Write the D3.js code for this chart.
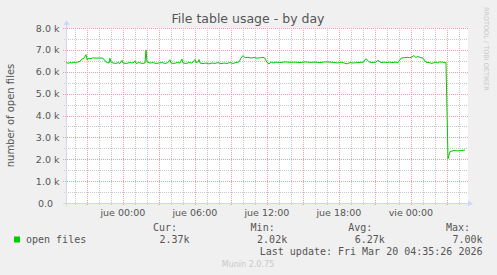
<!DOCTYPE html>
<html>
<head>
<meta charset="utf-8">
<script src="https://cdn.jsdelivr.net/npm/d3@7"></script>
<style>
  body { margin: 0; background: #f0f0f0; }
  svg { display: block; font-family: "DejaVu Sans", sans-serif; }
  .mono { font-family: "DejaVu Sans Mono", monospace; font-size: 10px; fill: #555; }
</style>
</head>
<body>
<div id="chart"></div>
<script>
const width = 497,
    height = 275;

// munin "day" graph: 400 samples of 5 minutes, ending at the last update
const endTime = new Date(Date.UTC(2026, 2, 20, 4, 35, 26));
const startTime = new Date(+endTime - 400 * 300 * 1000);

// minutes after startTime, and the number of open files at that time
const minutes = [
    0, 10, 20, 30, 40, 50, 60, 70, 80, 90, 100, 105, 115, 125, 135, 150, 170, 185,
    195, 205, 215, 220, 225, 235, 250, 260, 270, 280, 280, 285, 300, 320, 335, 345,
    350, 365, 380, 395, 400, 405, 420, 435, 450, 465, 480, 495, 510, 520, 525, 540,
    555, 570, 580, 585, 600, 615, 630, 645, 650, 660, 665, 670, 685, 700, 715, 730,
    745, 760, 775, 790, 805, 820, 835, 850, 865, 875, 885, 895, 910, 925, 940, 955,
    970, 985, 995, 1005, 1015, 1025, 1035, 1050, 1070, 1095, 1120, 1145, 1170, 1195,
    1220, 1245, 1270, 1295, 1320, 1345, 1360, 1375, 1390, 1405, 1420, 1435, 1480, 1485,
    1500, 1515, 1530, 1540, 1545, 1560, 1575, 1590, 1605, 1620, 1635, 1645, 1660, 1675,
    1690, 1705, 1720, 1730, 1740, 1750, 1755, 1770, 1785, 1800, 1815, 1830, 1845, 1860,
    1870, 1875, 1880, 1890, 1900, 1910, 1920, 1940, 1960, 1975, 1995
];
const openFiles = [
    6450, 6380, 6420, 6400, 6440, 6400, 6450, 6480, 6580, 6620, 6780, 6550, 6620, 6600,
    6640, 6620, 6630, 6620, 6500, 6420, 6400, 6620, 6450, 6400, 6380, 6420, 6380, 6520,
    6520, 6400, 6380, 6420, 6400, 6500, 6380, 6420, 6380, 6400, 7000, 6450, 6400, 6420,
    6380, 6400, 6420, 6380, 6420, 6550, 6400, 6380, 6420, 6400, 6580, 6400, 6380, 6420,
    6400, 6560, 6420, 6450, 6560, 6400, 6370, 6400, 6360, 6400, 6380, 6420, 6370, 6400,
    6380, 6420, 6380, 6420, 6450, 6620, 6740, 6640, 6660, 6630, 6650, 6620, 6640, 6660,
    6620, 6420, 6360, 6450, 6400, 6440, 6420, 6450, 6430, 6440, 6420, 6450, 6430, 6440,
    6420, 6450, 6440, 6420, 6400, 6440, 6400, 6360, 6420, 6400, 6440, 6420, 6600, 6450,
    6420, 6440, 6420, 6520, 6420, 6440, 6420, 6440, 6420, 6440, 6420, 6620, 6640, 6660,
    6640, 6680, 6740, 6640, 6700, 6660, 6620, 6440, 6420, 6380, 6440, 6400, 6460, 6420,
    6450, 6420, 6420, 2020, 2350, 2400, 2380, 2400, 2420, 2420, 2420, 2420, 2370
];

const yTickValues = [0, 1000, 2000, 3000, 4000, 5000, 6000, 7000, 8000];
const dayNames = ['dom', 'lun', 'mar', 'mié', 'jue', 'vie', 'sáb'];
const legendLabels = ['Cur:', 'Min:', 'Avg:', 'Max:'];
const legendValues = ['2.37k', '2.02k', '6.27k', '7.00k'];
const seriesName = 'open files';
const lastUpdate = 'Last update: Fri Mar 20 04:35:26 2026';

const series = minutes.map((m, i) => ({
    time: new Date(+startTime + m * 60000),
    value: openFiles[i]
}));

const plot = { left: 66, right: 466, top: 28, bottom: 203 };

const x = d3.scaleUtc()
    .domain([startTime, endTime])
    .range([plot.left, plot.right]);

const y = d3.scaleLinear()
    .domain([0, 8000])
    .range([plot.bottom, plot.top]);

const svg = d3.select('#chart')
    .append('svg')
    .attr('width', width)
    .attr('height', height);

svg.append('rect')
    .attr('width', width)
    .attr('height', height)
    .attr('fill', '#f0f0f0');

svg.append('rect')
    .attr('x', plot.left)
    .attr('y', plot.top)
    .attr('width', plot.right - plot.left + 2)
    .attr('height', plot.bottom - plot.top)
    .attr('fill', '#ffffff');

// grid: hours and half-thousands in grey, every 3 hours and thousands in red
const hourTicks = d3.utcHour.every(1).range(startTime, endTime);
const majorTimes = hourTicks.filter(d => d.getUTCHours() % 3 === 0);
const minorTimes = hourTicks.filter(d => d.getUTCHours() % 3 !== 0);
const minorY = d3.range(500, 8000, 1000);

const grid = svg.append('g').attr('shape-rendering', 'crispEdges');

grid.selectAll('.vminor')
    .data(minorTimes)
    .enter()
    .append('line')
    .attr('x1', d => Math.round(x(d)) + 0.5)
    .attr('x2', d => Math.round(x(d)) + 0.5)
    .attr('y1', plot.top)
    .attr('y2', plot.bottom + 2)
    .attr('stroke', '#c8c8c8')
    .attr('stroke-dasharray', '1,1');

grid.selectAll('.hminor')
    .data(minorY)
    .enter()
    .append('line')
    .attr('x1', plot.left - 2)
    .attr('x2', plot.right + 2)
    .attr('y1', d => Math.round(y(d)) + 0.5)
    .attr('y2', d => Math.round(y(d)) + 0.5)
    .attr('stroke', '#c8c8c8')
    .attr('stroke-dasharray', '1,1');

grid.selectAll('.vmajor')
    .data(majorTimes)
    .enter()
    .append('line')
    .attr('x1', d => Math.round(x(d)) + 0.5)
    .attr('x2', d => Math.round(x(d)) + 0.5)
    .attr('y1', plot.top)
    .attr('y2', plot.bottom + 3)
    .attr('stroke', '#f0a0a0')
    .attr('stroke-dasharray', '1,1');

grid.selectAll('.hmajor')
    .data(yTickValues.slice(1))
    .enter()
    .append('line')
    .attr('x1', plot.left - 3)
    .attr('x2', plot.right + 2)
    .attr('y1', d => Math.round(y(d)) + 0.5)
    .attr('y2', d => Math.round(y(d)) + 0.5)
    .attr('stroke', '#f0a0a0')
    .attr('stroke-dasharray', '1,1');

// axes with arrows
const axisColor = '#cfd6f8';
svg.append('line')
    .attr('x1', plot.left + 0.5).attr('x2', plot.left + 0.5)
    .attr('y1', plot.bottom + 3).attr('y2', plot.top - 5)
    .attr('stroke', axisColor);
svg.append('path')
    .attr('d', `M${plot.left - 2.5},${plot.top - 3}L${plot.left + 3.5},${plot.top - 3}L${plot.left + 0.5},${plot.top - 8}Z`)
    .attr('fill', axisColor);
svg.append('line')
    .attr('x1', plot.left - 3).attr('x2', plot.right + 4)
    .attr('y1', plot.bottom + 0.5).attr('y2', plot.bottom + 0.5)
    .attr('stroke', axisColor);
svg.append('path')
    .attr('d', `M${plot.right + 2},${plot.bottom - 2.5}L${plot.right + 2},${plot.bottom + 3.5}L${plot.right + 7},${plot.bottom + 0.5}Z`)
    .attr('fill', axisColor);

// tick labels
svg.append('g')
    .selectAll('text')
    .data(yTickValues)
    .enter()
    .append('text')
    .attr('x', d => d === 0 ? 53 : 59.5)
    .attr('y', d => y(d) + 3.5)
    .attr('text-anchor', 'end')
    .attr('font-size', '9.5px')
    .attr('fill', '#555')
    .text(d => d === 0 ? '0.0' : d3.format('.1f')(d / 1000) + ' k');

const labelTimes = hourTicks.filter(d => d.getUTCHours() % 6 === 0);
svg.append('g')
    .selectAll('text')
    .data(labelTimes)
    .enter()
    .append('text')
    .attr('x', d => x(d))
    .attr('y', 216)
    .attr('text-anchor', 'middle')
    .attr('font-size', '9.5px')
    .attr('fill', '#555')
    .text(d => dayNames[d.getUTCDay()] + ' ' + d3.utcFormat('%H:%M')(d));

// titles
svg.append('text')
    .attr('x', 248)
    .attr('y', 23)
    .attr('text-anchor', 'middle')
    .attr('font-size', '12.5px')
    .attr('fill', '#555')
    .text('File table usage - by day');

svg.append('text')
    .attr('transform', `translate(14,${(plot.top + plot.bottom) / 2}) rotate(-90)`)
    .attr('text-anchor', 'middle')
    .attr('font-size', '10px')
    .attr('fill', '#555')
    .text('number of open files');

svg.append('text')
    .attr('transform', 'translate(484,7) rotate(90)')
    .attr('font-size', '6.5px')
    .attr('fill', '#c8c8c8')
    .text('RRDTOOL / TOBI OETIKER');

// the series
const line = d3.line()
    .x(d => x(d.time))
    .y(d => y(d.value));

svg.append('path')
    .datum(series)
    .attr('d', line)
    .attr('fill', 'none')
    .attr('stroke', '#00cc00')
    .attr('stroke-width', 1);

// legend
svg.append('rect')
    .attr('x', 14)
    .attr('y', 236.5)
    .attr('width', 6)
    .attr('height', 6)
    .attr('fill', '#00cc00');

svg.append('text')
    .attr('class', 'mono')
    .attr('x', 26)
    .attr('y', 243)
    .text(seriesName);

const legend = svg.append('g');
legend.selectAll('.lab')
    .data(legendLabels)
    .enter()
    .append('text')
    .attr('class', 'mono')
    .attr('x', (d, i) => 177 + i * 97.7)
    .attr('y', 231)
    .attr('text-anchor', 'end')
    .text(d => d);

legend.selectAll('.val')
    .data(legendValues)
    .enter()
    .append('text')
    .attr('class', 'mono')
    .attr('x', (d, i) => 189.5 + i * 97.7)
    .attr('y', 243)
    .attr('text-anchor', 'end')
    .text(d => d);

svg.append('text')
    .attr('class', 'mono')
    .attr('x', 482.5)
    .attr('y', 255)
    .attr('text-anchor', 'end')
    .text(lastUpdate);

svg.append('text')
    .attr('x', 248)
    .attr('y', 267)
    .attr('text-anchor', 'middle')
    .attr('font-size', '8px')
    .attr('fill', '#c8c8c8')
    .text('Munin 2.0.75');
</script>
</body>
</html>
